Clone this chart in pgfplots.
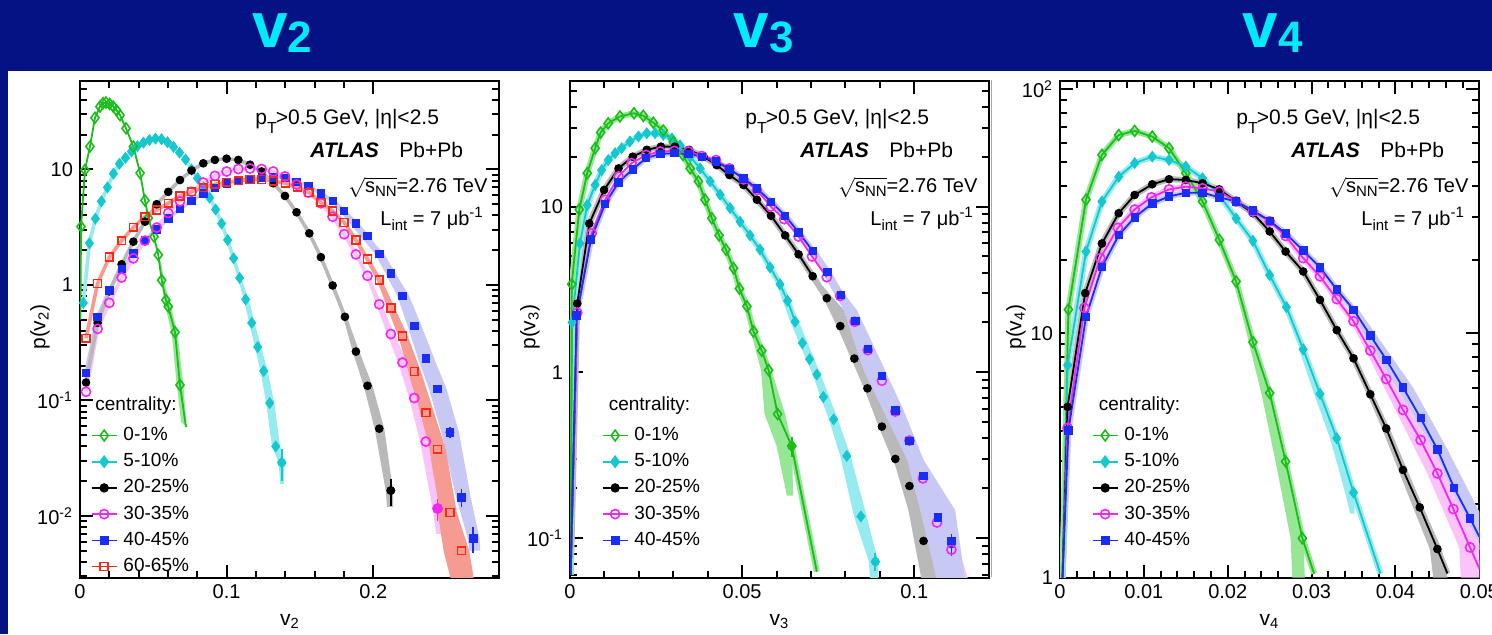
\documentclass[border=0pt]{standalone}
\usepackage{fontspec}
\setmainfont{Liberation Sans}
\usepackage{pgfplots}
\pgfplotsset{compat=1.18}
\usepackage{pgfplotstable}

\definecolor{banner}{RGB}{4,18,132}
\definecolor{titlecyan}{RGB}{0,235,250}
\definecolor{cG}{RGB}{25,190,25}
\definecolor{cC}{RGB}{20,200,205}
\definecolor{cM}{RGB}{240,40,240}
\definecolor{cB}{RGB}{25,45,245}
\definecolor{cR}{RGB}{250,40,20}
\definecolor{bG}{RGB}{150,230,150}
\definecolor{bC}{RGB}{150,235,240}
\definecolor{bK}{RGB}{185,185,185}
\definecolor{bM}{RGB}{250,195,250}
\definecolor{bB}{RGB}{200,200,245}
\definecolor{bR}{RGB}{246,155,145}

% ---------------- v2 data ----------------
\pgfplotstableread{
x y
0.0003 0.5
0.0007 3.2
0.0034 9.9
0.0068 15.8
0.0102 28
0.0136 35
0.0157 37.5
0.0177 38.0
0.0202 37.0
0.0227 35
0.0250 32.5
0.0273 29.5
0.0314 22.7
0.0364 15.8
0.0410 9.3
0.0443 5.4
0.0466 3.8
0.0505 2.62
0.0534 1.82
0.0557 1.1
0.0586 0.74
0.0602 0.65
0.0648 0.39
0.0682 0.136
0.0723 0.059
}\Gtwo
\pgfplotstableread{
x y
0.0023 0.70
0.0064 2.3
0.0105 3.75
0.0146 5.3
0.0187 7.0
0.0228 9.2
0.0269 11.2
0.0310 12.6
0.0351 14.3
0.0392 15.9
0.0433 17.1
0.0474 18.0
0.0515 18.5
0.0556 18.3
0.0597 17.2
0.0638 15.7
0.0679 14.0
0.0720 12.2
0.0761 10.0
0.0802 8.4
0.0843 7.0
0.0884 5.7
0.0925 4.5
0.0966 3.4
0.1007 2.45
0.1048 1.7
0.1089 1.15
0.1130 0.75
0.1171 0.47
0.1212 0.29
0.1253 0.18
0.1294 0.095
0.1335 0.040
0.1376 0.029
}\Ctwo
\pgfplotstableread{
x y
0.0041 0.143
0.0120 0.47
0.0200 0.88
0.0284 1.51
0.0364 2.37
0.0443 3.53
0.0523 5.0
0.0602 6.4
0.0682 8.1
0.0761 9.8
0.0841 11.3
0.0920 12.1
0.1000 12.4
0.1080 12.1
0.1160 11.0
0.1239 9.6
0.1318 7.6
0.1398 5.9
0.1477 4.26
0.1564 2.8
0.1643 1.74
0.1723 0.99
0.1807 0.53
0.1882 0.265
0.1961 0.134
0.2041 0.057
0.2120 0.0166
}\Ktwo
\pgfplotstableread{
x y
0.0041 0.119
0.0120 0.417
0.0200 0.70
0.0284 1.16
0.0364 1.70
0.0443 2.42
0.0523 3.14
0.0602 4.2
0.0682 5.3
0.0761 6.4
0.0841 7.7
0.0920 8.8
0.1000 9.6
0.1080 10.1
0.1159 10.2
0.1239 10.1
0.1318 9.6
0.1398 8.7
0.1477 7.4
0.1557 6.3
0.1643 5.1
0.1723 3.9
0.1802 2.75
0.1882 1.84
0.1961 1.2
0.2041 0.68
0.2120 0.376
0.2200 0.213
0.2280 0.105
0.2359 0.044
0.2439 0.0116
}\Mtwo
\pgfplotstableread{
x y
0.0041 0.174
0.0120 0.53
0.0200 0.9
0.0284 1.37
0.0364 1.88
0.0443 2.45
0.0523 3.03
0.0602 3.78
0.0682 4.55
0.0761 5.37
0.0841 6.2
0.0920 6.9
0.1000 7.6
0.1080 8.0
0.1159 8.3
0.1239 8.5
0.1318 8.55
0.1402 8.5
0.1477 7.85
0.1557 7.25
0.1643 6.2
0.1723 5.37
0.1802 4.37
0.1882 3.42
0.1961 2.66
0.2041 1.85
0.2120 1.26
0.2200 0.80
0.2280 0.44
0.2359 0.232
0.2439 0.126
0.2523 0.053
0.2602 0.0145
0.2682 0.0064
}\Btwo
\pgfplotstableread{
x y
0.0041 0.345
0.0120 1.03
0.0200 1.74
0.0284 2.42
0.0364 3.16
0.0443 3.9
0.0523 4.46
0.0602 5.1
0.0682 5.9
0.0761 6.43
0.0841 6.96
0.0920 7.44
0.1000 7.74
0.1080 8.0
0.1159 8.2
0.1239 8.2
0.1318 7.95
0.1402 7.6
0.1484 7.0
0.1564 6.3
0.1643 5.2
0.1723 4.37
0.1802 3.47
0.1882 2.45
0.1961 1.68
0.2041 1.1
0.2120 0.63
0.2200 0.362
0.2280 0.178
0.2359 0.0785
0.2439 0.0378
0.2523 0.0107
0.2602 0.005
}\Rtwo
% bands v2
\pgfplotstableread{
x y
0.0540 1.6
0.0552 1.6
0.0580 1.0
0.0618 0.67
0.0665 0.386
0.0705 0.136
0.0728 0.059
0.0690 0.065
0.0660 0.136
0.0625 0.386
0.0580 0.67
0.0560 1.0
}\bGtwo
\pgfplotstableread{
x y
0.1115 1.0
0.1160 0.69
0.1190 0.47
0.1280 0.18
0.1325 0.095
0.1365 0.040
0.1395 0.029
0.1390 0.019
0.1365 0.019
0.1355 0.029
0.1310 0.040
0.1270 0.095
0.1230 0.18
0.1155 0.47
0.1125 0.69
0.1095 1.0
}\bCtwo
\pgfplotstableread{
x y
0.1735 0.99
0.1820 0.53
0.1905 0.265
0.1995 0.134
0.2075 0.057
0.2135 0.0166
0.2135 0.012
0.2095 0.012
0.2085 0.0166
0.2010 0.057
0.1935 0.134
0.1860 0.265
0.1795 0.53
0.1715 0.99
}\bKtwo
\pgfplotstableread{
x y
0.1975 1.2
0.2145 0.376
0.2230 0.213
0.2315 0.105
0.2395 0.044
0.2475 0.0116
0.2485 0.007
0.2430 0.007
0.2405 0.0116
0.2320 0.044
0.2245 0.105
0.2170 0.213
0.2095 0.376
0.1950 1.2
}\bMtwo
\pgfplotstableread{
x y
0.1895 2.45
0.2060 1.1
0.2235 0.362
0.2325 0.178
0.2415 0.0785
0.2495 0.0378
0.2570 0.0107
0.2655 0.005
0.2685 0.0029
0.2527 0.0029
0.2480 0.005
0.2440 0.0107
0.2385 0.0378
0.2310 0.0785
0.2240 0.178
0.2170 0.362
0.2025 1.1
0.1872 2.45
}\bRtwo
\pgfplotstableread{
x y
0.1745 5.37
0.2075 1.85
0.2245 0.8
0.2330 0.44
0.2415 0.232
0.2500 0.126
0.2585 0.053
0.2665 0.0145
0.2725 0.0064
0.2730 0.005
0.2655 0.005
0.2645 0.0064
0.2565 0.0145
0.2465 0.053
0.2380 0.126
0.2305 0.232
0.2235 0.44
0.2165 0.8
0.2015 1.85
0.1710 5.37
}\bBtwo

% ---------------- v3 data ----------------
\pgfplotstableread{
x y
0.0002 0.06
0.0005 3.4
0.0027 9.6
0.0050 15.9
0.0073 22.5
0.0089 28
0.0111 31.8
0.0145 35
0.0186 36.6
0.0213 35.3
0.0242 32.1
0.0271 28.8
0.0300 24.5
0.0328 20.5
0.0349 17.0
0.0373 14.2
0.0392 11.0
0.0412 8.5
0.0433 6.7
0.0453 5.5
0.0475 4.25
0.0492 3.2
0.0514 2.5
0.0533 1.76
0.0557 1.35
0.0577 1.03
0.0603 0.56
0.0644 0.359
0.0717 0.0626
}\Gthree
\pgfplotstableread{
x y
0.0002 0.06
0.0006 2.0
0.0029 6.0
0.0050 10.2
0.0073 13.5
0.0092 16.6
0.0111 19.1
0.0131 21
0.0150 22.5
0.0174 24.7
0.0199 26.5
0.0223 27.7
0.0247 27.7
0.0271 27.1
0.0296 25.8
0.0320 23.4
0.0349 20.0
0.0378 17.0
0.0407 14.2
0.0436 11.8
0.0465 9.8
0.0494 8.1
0.0523 6.7
0.0552 5.5
0.0581 4.3
0.0610 3.4
0.0632 2.7
0.0654 2.02
0.0675 1.5
0.0696 1.2
0.0717 0.97
0.0736 0.71
0.0766 0.52
0.0804 0.313
0.0845 0.135
0.0887 0.072
}\Cthree
\pgfplotstableread{
x y
0.0002 0.06
0.0021 2.6
0.0056 7.9
0.0099 12.6
0.0141 17.0
0.0182 20.0
0.0223 22.0
0.0264 23.0
0.0305 23.0
0.0346 22.0
0.0388 20.0
0.0426 17.8
0.0463 15.5
0.0504 13.5
0.0543 11.0
0.0584 8.8
0.0625 6.7
0.0664 5.15
0.0705 3.8
0.0746 2.8
0.0785 1.9
0.0826 1.21
0.0864 0.8
0.0906 0.47
0.0945 0.30
0.0986 0.206
0.1027 0.096
}\Kthree
\pgfplotstableread{
x y
0.0002 0.06
0.0021 2.29
0.0063 6.9
0.0102 11
0.0141 15.2
0.0179 18.3
0.0221 20.5
0.0262 21.5
0.0303 21.7
0.0344 21.5
0.0383 20.2
0.0424 19.1
0.0463 17.0
0.0504 14.6
0.0543 12.6
0.0583 10.0
0.0622 8.4
0.0664 6.6
0.0703 5.0
0.0746 3.75
0.0785 2.89
0.0827 2.02
0.0865 1.36
0.0906 0.89
0.0945 0.58
0.0986 0.387
0.1025 0.229
0.1066 0.124
0.1108 0.085
}\Mthree
\pgfplotstableread{
x y
0.0002 0.06
0.0019 2.2
0.0061 6.35
0.0102 10.4
0.0141 14.0
0.0182 16.8
0.0221 19.6
0.0262 20.8
0.0303 21.0
0.0344 20.8
0.0383 20.0
0.0424 18.7
0.0463 16.8
0.0504 14.8
0.0543 12.9
0.0584 10.7
0.0625 8.8
0.0664 7.0
0.0705 5.4
0.0748 4.05
0.0787 2.93
0.0829 2.05
0.0865 1.38
0.0906 0.95
0.0945 0.59
0.0986 0.385
0.1027 0.237
0.1069 0.133
0.1108 0.096
}\Bthree
\pgfplotstableread{
x y
0.0500 2.9
0.0510 2.9
0.0545 1.76
0.0585 1.03
0.0625 0.56
0.0645 0.36
0.0648 0.18
0.0630 0.18
0.0600 0.36
0.0565 0.56
0.0555 1.03
0.0525 1.76
}\bGthree
\pgfplotstableread{
x y
0.0615 3.2
0.0665 2.02
0.0728 0.97
0.0778 0.52
0.0815 0.313
0.0862 0.135
0.0895 0.072
0.0896 0.055
0.0872 0.055
0.0868 0.072
0.0825 0.135
0.0785 0.313
0.0752 0.52
0.0705 0.97
0.0640 2.02
0.0605 3.2
}\bCthree
\pgfplotstableread{
x y
0.0735 3.3
0.0795 2.38
0.0855 1.0
0.0979 0.296
0.1017 0.147
0.1066 0.055
0.1022 0.055
0.0983 0.147
0.0940 0.296
0.0835 1.0
0.0765 2.38
0.0722 3.3
}\bKthree
\pgfplotstableread{
x y
0.0752 3.9
0.0830 2.38
0.0895 1.19
0.0960 0.59
0.1025 0.296
0.1095 0.147
0.1158 0.055
0.1060 0.055
0.1020 0.147
0.0945 0.296
0.0890 0.59
0.0845 1.19
0.0797 2.38
0.0738 3.9
}\bMthree
\pgfplotstableread{
x y
0.0715 5.6
0.0765 3.6
0.0833 2.38
0.0901 1.19
0.0969 0.59
0.1027 0.296
0.1119 0.147
0.1148 0.055
0.1047 0.055
0.1017 0.147
0.0940 0.296
0.0891 0.59
0.0843 1.19
0.0795 2.38
0.0745 3.6
0.0700 5.6
}\bBthree

% ---------------- v4 data ----------------
\pgfplotstableread{
x y
0.0003 1.0
0.0010 12.5
0.0031 35.2
0.0050 53.7
0.0070 64.7
0.0089 67.3
0.0110 63.8
0.0130 57.2
0.0150 45.2
0.0170 34.6
0.0190 24.1
0.0210 16.3
0.0230 9.2
0.0250 5.7
0.0269 2.99
0.0289 1.45
0.0303 1.04
}\Gfour
\pgfplotstableread{
x y
0.0003 1.0
0.0009 7.4
0.0031 21.6
0.0050 34.6
0.0070 43.7
0.0089 49.7
0.0110 52.8
0.0130 51.2
0.0150 48.1
0.0170 43.1
0.0190 36.8
0.0210 29.5
0.0230 23.9
0.0250 17.3
0.0270 12.8
0.0290 8.6
0.0310 5.65
0.0330 3.72
0.0350 2.23
0.0382 1.04
}\Cfour
\pgfplotstableread{
x y
0.0003 1.0
0.0009 5.0
0.0030 14.6
0.0050 23.3
0.0070 31
0.0089 36.8
0.0110 40.7
0.0130 42.7
0.0150 42.4
0.0170 41.1
0.0190 38.8
0.0210 34.6
0.0230 31
0.0250 26.1
0.0269 21.6
0.0290 17.9
0.0310 13.7
0.0330 10.3
0.0350 7.9
0.0370 5.63
0.0389 4.08
0.0409 2.76
0.0429 1.94
0.0450 1.31
0.0462 1.04
}\Kfour
\pgfplotstableread{
x y
0.0003 1.0
0.0009 4.1
0.0029 12.7
0.0048 20.3
0.0069 27
0.0089 32.1
0.0109 36
0.0130 38.8
0.0150 39.8
0.0170 39.2
0.0190 38
0.0210 34.6
0.0230 31.5
0.0250 28.7
0.0269 25
0.0290 20.3
0.0310 17.1
0.0330 13.8
0.0350 11.2
0.0370 8.5
0.0389 6.5
0.0409 4.86
0.0430 3.66
0.0450 2.67
0.0469 1.91
0.0489 1.33
0.0500 1.09
}\Mfour
\pgfplotstableread{
x y
0.0003 1.0
0.0010 4.0
0.0031 11.7
0.0050 18.7
0.0070 25.2
0.0089 29.8
0.0110 34
0.0130 36.3
0.0150 37.6
0.0170 37.6
0.0190 36
0.0210 34.6
0.0230 31.8
0.0250 28.9
0.0269 25.6
0.0290 21.8
0.0310 18.6
0.0330 15.1
0.0350 12.5
0.0370 9.8
0.0389 7.8
0.0409 6.0
0.0430 4.5
0.0450 3.35
0.0470 2.33
0.0489 1.75
0.0500 1.47
}\Bfour
\pgfplotstableread{
x y
0.0212 16.3
0.0231 9.2
0.0251 5.7
0.0270 2.99
0.0290 1.45
0.0292 1.0
0.0277 1.0
0.0275 1.45
0.0257 2.99
0.0240 5.7
0.0225 9.2
0.0208 16.3
}\bGfour
\pgfplotstableread{
x y
0.0292 8.6
0.0312 5.65
0.0333 3.72
0.0352 2.23
0.0351 1.83
0.0346 1.83
0.0340 2.23
0.0322 3.72
0.0303 5.65
0.0285 8.6
}\bCfour
\pgfplotstableread{
x y
0.0353 7.9
0.0393 4.08
0.0433 1.94
0.0455 1.31
0.0462 1.0
0.0445 1.0
0.0441 1.31
0.0421 1.94
0.0384 4.08
0.0348 7.9
}\bKfour
\pgfplotstableread{
x y
0.0353 11.2
0.0418 4.86
0.0462 2.67
0.0502 1.33
0.0505 1.0
0.0478 1.0
0.0476 1.33
0.0438 2.67
0.0400 4.86
0.0347 11.2
}\bMfour
\pgfplotstableread{
x y
0.0356 12.5
0.0421 6.0
0.0462 3.35
0.0504 1.75
0.0515 1.3
0.0490 1.3
0.0474 1.75
0.0438 3.35
0.0399 6.0
0.0344 12.5
}\bBfour

\pgfplotsset{
  every axis/.append style={scale only axis, width=209.65pt, height=248.5pt, anchor=south west,
    axis line style={line width=1pt}, tick style={line width=1pt, black},
    major tick length=6.5pt, minor tick length=3.5pt, tick align=inside,
    minor x tick num=4, scaled x ticks=false, scaled y ticks=false,
    tick label style={font=\fontsize{10}{12}\selectfont},
    legend cell align=left},
  every axis legend/.append style={draw=none, fill=none, anchor=north west, font=\fontsize{9.5}{11}\selectfont,
      row sep=4.1pt, column sep=3pt, inner sep=0pt, nodes={inner sep=0pt, text height=7pt, text depth=2pt}},
  legend image code/.code={\draw[mark repeat=2,mark phase=2,#1] plot coordinates {(0pt,0pt) (6.25pt,0pt) (12.5pt,0pt)};},
  bandfill/.style={draw=none, fill=#1, forget plot},
  bandline/.style={#1, line width=1.8pt, forget plot, mark=none, line join=round},
  bandlineB/.style={#1, line width=3pt, forget plot, mark=none, line join=round},
  mainline/.style={#1, line width=0.9pt, forget plot, mark=none},
  sG/.style={cG, mark=diamond, mark size=2.7pt, mark options={solid, line width=0.8pt}},
  sC/.style={cC, mark=diamond*, mark size=2.7pt},
  sK/.style={black, mark=*, mark size=1.95pt},
  sM/.style={cM, mark=o, mark size=2.3pt, mark options={solid, line width=0.8pt}},
  sB/.style={cB, mark=square*, mark size=1.85pt},
  sR/.style={cR, mark=square, mark size=1.95pt, mark options={solid, line width=0.8pt}},
  pts/.style={only marks, forget plot},
}

\newcommand{\annot}{%
  \node[anchor=base west, inner sep=0, font=\fontsize{10.5}{12}\selectfont] at (127.5pt,255pt) {p\raisebox{-4.5pt}{\fontsize{8}{8}\selectfont T}\kern-0.5pt>0.5 GeV, |η|<2.5};
  \node[anchor=base west, inner sep=0, font=\fontsize{10.5}{12}\selectfont\bfseries\itshape] at (155pt,238.5pt) {ATLAS};
  \node[anchor=base west, inner sep=0, font=\fontsize{10.5}{12}\selectfont] at (199.5pt,238.5pt) {Pb+Pb};
  \node[anchor=base west, inner sep=0, font=\fontsize{10}{12}\selectfont] at (174pt,221pt) {$\sqrt{\mbox{s\raisebox{-2pt}{\fontsize{7.5}{8}\selectfont NN}}}$=2.76 TeV};
  \node[anchor=base west, inner sep=0, font=\fontsize{10}{12}\selectfont] at (190pt,204.5pt) {L\raisebox{-2.5pt}{\fontsize{7.5}{8}\selectfont int} = 7 μb\raisebox{4pt}{\fontsize{7.5}{8}\selectfont -1}};
}
% #1 = x of label centre offset, #2 = index
\newcommand{\axlabels}[3]{%
  \node[anchor=base, inner sep=0, font=\fontsize{10.5}{12}\selectfont] at (#1,4.5pt) {v\textsubscript{#3}};
  \node[anchor=center, rotate=90, inner sep=0, font=\fontsize{10.5}{12}\selectfont] at (#2,153.5pt) {p(v\textsubscript{#3})};
}
\newcommand{\vtitle}[2]{%
  \node[anchor=base west, inner sep=0, text height=18pt, text depth=3pt, text=titlecyan] at (#1,293.5pt) {\fontsize{32}{32}\selectfont\bfseries v\raisebox{-2.5pt}{\fontsize{22}{22}\selectfont #2}};}

\begin{document}
\begin{tikzpicture}
\useasboundingbox (0,0) rectangle (746pt,317pt);
\fill[white] (0,0) rectangle (746pt,317pt);
\fill[banner] (0,281.6pt) rectangle (746pt,317pt);
\fill[banner] (0,0) rectangle (3.9pt,317pt);
\draw[black!35, line width=0.6pt] (495.6pt,28.5pt) -- (495.6pt,277pt);

% titles
\vtitle{126pt}{2}
\vtitle{366.5pt}{3}
\vtitle{621pt}{4}

% ================= v2 =================
\begin{axis}[ymode=log, at={(40pt,28.15pt)},
  xmin=0, xmax=0.286, ymin=0.00292, ymax=58.7,
  xtick={0,0.1,0.2}, xticklabels={0,0.1,0.2},
  ytick={0.01,0.1,1,10}, yticklabels={10\textsuperscript{-2},10\textsuperscript{-1},1,10},
  minor ytick={0.003,0.004,0.005,0.006,0.007,0.008,0.009,0.02,0.03,0.04,0.05,0.06,0.07,0.08,0.09,0.2,0.3,0.4,0.5,0.6,0.7,0.8,0.9,2,3,4,5,6,7,8,9,20,30,40,50},
  legend style={at={(0.025,0.305)}},
]
\addplot[bandfill=bB] table {\bBtwo};
\addplot[bandfill=bM] table {\bMtwo};
\addplot[bandfill=bR] table {\bRtwo};
\addplot[bandfill=bK] table {\bKtwo};
\addplot[bandfill=bC] table {\bCtwo};
\addplot[bandfill=bG] table {\bGtwo};
\addplot[bandline=bB] table {\Btwo};
\addplot[bandline=bM] table {\Mtwo};
\addplot[bandline=bR] table {\Rtwo};
\addplot[bandline=bK] table {\Ktwo};
\addplot[bandline=bC] table {\Ctwo};
\addplot[mainline=cG] table {\Gtwo};
\addplot[cC, forget plot, only marks, mark=none, error bars/.cd, y dir=both, y explicit, error mark=none, error bar style={line width=0.9pt}] coordinates {(0.1376,0.029) +- (0,0.009)};
\addplot[black, forget plot, only marks, mark=none, error bars/.cd, y dir=both, y explicit, error mark=none, error bar style={line width=0.9pt}] coordinates {(0.2120,0.0166) +- (0,0.0045)};
\addplot[cM, forget plot, only marks, mark=none, error bars/.cd, y dir=both, y explicit, error mark=none, error bar style={line width=0.9pt}] coordinates {(0.2439,0.0116) +- (0,0.0025)};
\addplot[cB, forget plot, only marks, mark=none, error bars/.cd, y dir=both, y explicit, error mark=none, error bar style={line width=0.9pt}] coordinates {(0.2523,0.053) +- (0,0.006) (0.2602,0.0145) +- (0,0.0025) (0.2682,0.0064) +- (0,0.0016)};
\addplot[sC, pts] table {\Ctwo};
\addplot[sG, pts, restrict x to domain=0.0005:0.07] table {\Gtwo};
\addplot[sK, pts] table {\Ktwo};
\addplot[sB, pts] table {\Btwo};
\addplot[sM, pts] table {\Mtwo};
\addplot[sR, pts] table {\Rtwo};
\addlegendimage{sG, line width=0.8pt}\addlegendentry{0-1\%}
\addlegendimage{sC, line width=0.8pt}\addlegendentry{5-10\%}
\addlegendimage{sK, line width=0.8pt}\addlegendentry{20-25\%}
\addlegendimage{sM, line width=0.8pt}\addlegendentry{30-35\%}
\addlegendimage{sB, line width=0.8pt}\addlegendentry{40-45\%}
\addlegendimage{sR, line width=0.8pt}\addlegendentry{60-65\%}
\end{axis}
\node[anchor=base west, inner sep=0, font=\fontsize{9.5}{11}\selectfont] at (47.5pt,112pt) {centrality:};
\annot
\axlabels{145pt}{20pt}{2}

% ================= v3 =================
\begin{axis}[ymode=log, at={(285pt,28.15pt)},
  xmin=0, xmax=0.1218, ymin=0.0576, ymax=57.5,
  xtick={0,0.05,0.1}, xticklabels={0,0.05,0.1},
  ytick={0.1,1,10}, yticklabels={10\textsuperscript{-1},1,10},
  minor ytick={0.06,0.07,0.08,0.09,0.2,0.3,0.4,0.5,0.6,0.7,0.8,0.9,2,3,4,5,6,7,8,9,20,30,40,50},
  legend style={at={(0.075,0.305)}},
]
\addplot[bandfill=bM] table {\bMthree};
\addplot[bandfill=bB] table {\bBthree};
\addplot[bandfill=bK] table {\bKthree};
\addplot[bandfill=bC] table {\bCthree};
\addplot[bandfill=bG] table {\bGthree};
\addplot[bandlineB=bB] table {\Bthree};
\addplot[bandlineB=bK] table {\Kthree};
\addplot[bandlineB=bC] table {\Cthree};
\addplot[bandlineB=bG] table {\Gthree};
\addplot[mainline=cC, restrict x to domain=0:0.0655] table {\Cthree};
\addplot[mainline=cG] table {\Gthree};
\addplot[mainline=black, restrict x to domain=0:0.0727] table {\Kthree};
\addplot[mainline=cM, restrict x to domain=0:0.0747] table {\Mthree};
\addplot[mainline=cB, restrict x to domain=0:0.0725] table {\Bthree};
\addplot[cG, forget plot, only marks, mark=none, error bars/.cd, y dir=both, y explicit, error mark=none, error bar style={line width=0.9pt}] coordinates {(0.0644,0.359) +- (0,0.05)};
\addplot[cC, forget plot, only marks, mark=none, error bars/.cd, y dir=both, y explicit, error mark=none, error bar style={line width=0.9pt}] coordinates {(0.0887,0.072) +- (0,0.009)};
\addplot[cB, forget plot, only marks, mark=none, error bars/.cd, y dir=both, y explicit, error mark=none, error bar style={line width=0.9pt}] coordinates {(0.1108,0.092) +- (0,0.014)};
\addplot[sC, pts, restrict x to domain=0.0004:0.1] table {\Cthree};
\addplot[sG, pts, restrict x to domain=0.0004:0.07] table {\Gthree};
\addplot[sK, pts, restrict x to domain=0.0004:0.2] table {\Kthree};
\addplot[sM, pts, restrict x to domain=0.0004:0.2] table {\Mthree};
\addplot[sB, pts, restrict x to domain=0.0004:0.2] table {\Bthree};
\addlegendimage{sG, line width=0.8pt}\addlegendentry{0-1\%}
\addlegendimage{sC, line width=0.8pt}\addlegendentry{5-10\%}
\addlegendimage{sK, line width=0.8pt}\addlegendentry{20-25\%}
\addlegendimage{sM, line width=0.8pt}\addlegendentry{30-35\%}
\addlegendimage{sB, line width=0.8pt}\addlegendentry{40-45\%}
\end{axis}
\node[anchor=base west, inner sep=0, font=\fontsize{9.5}{11}\selectfont] at (304.2pt,112pt) {centrality:};
\begin{scope}[xshift=245pt]\annot\end{scope}
\axlabels{389.75pt}{265pt}{3}

% ================= v4 =================
\begin{axis}[ymode=log, at={(530pt,28.15pt)},
  xmin=0, xmax=0.05, ymin=1, ymax=108,
  xtick={0,0.01,0.02,0.03,0.04,0.05}, xticklabels={0,0.01,0.02,0.03,0.04,0.05},
  ytick={1,10,100}, yticklabels={1,10,10\textsuperscript{2}},
  minor ytick={2,3,4,5,6,7,8,9,20,30,40,50,60,70,80,90},
  legend style={at={(0.075,0.305)}},
]
\addplot[bandfill=bB] table {\bBfour};
\addplot[bandfill=bM] table {\bMfour};
\addplot[bandfill=bK] table {\bKfour};
\addplot[bandfill=bC] table {\bCfour};
\addplot[bandfill=bG] table {\bGfour};
\addplot[bandlineB=bB] table {\Bfour};
\addplot[bandlineB=bM] table {\Mfour};
\addplot[bandlineB=bK] table {\Kfour};
\addplot[bandlineB=bC] table {\Cfour};
\addplot[bandlineB=bG] table {\Gfour};
\addplot[mainline=cG] table {\Gfour};
\addplot[mainline=cC] table {\Cfour};
\addplot[mainline=black] table {\Kfour};
\addplot[mainline=cM] table {\Mfour};
\addplot[mainline=cB] table {\Bfour};
\addplot[sG, pts, restrict x to domain=0.0005:0.0295] table {\Gfour};
\addplot[sC, pts, restrict x to domain=0.0005:0.036] table {\Cfour};
\addplot[sK, pts, restrict x to domain=0.0005:0.0455] table {\Kfour};
\addplot[sM, pts, restrict x to domain=0.0005:0.0495] table {\Mfour};
\addplot[sB, pts, restrict x to domain=0.0005:0.0495] table {\Bfour};
\addlegendimage{sG, line width=0.8pt}\addlegendentry{0-1\%}
\addlegendimage{sC, line width=0.8pt}\addlegendentry{5-10\%}
\addlegendimage{sK, line width=0.8pt}\addlegendentry{20-25\%}
\addlegendimage{sM, line width=0.8pt}\addlegendentry{30-35\%}
\addlegendimage{sB, line width=0.8pt}\addlegendentry{40-45\%}
\end{axis}
\node[anchor=base west, inner sep=0, font=\fontsize{9.5}{11}\selectfont] at (549.2pt,112pt) {centrality:};
\begin{scope}[xshift=490.5pt]\annot\end{scope}
\axlabels{634.75pt}{508pt}{4}
\end{tikzpicture}
\end{document}
